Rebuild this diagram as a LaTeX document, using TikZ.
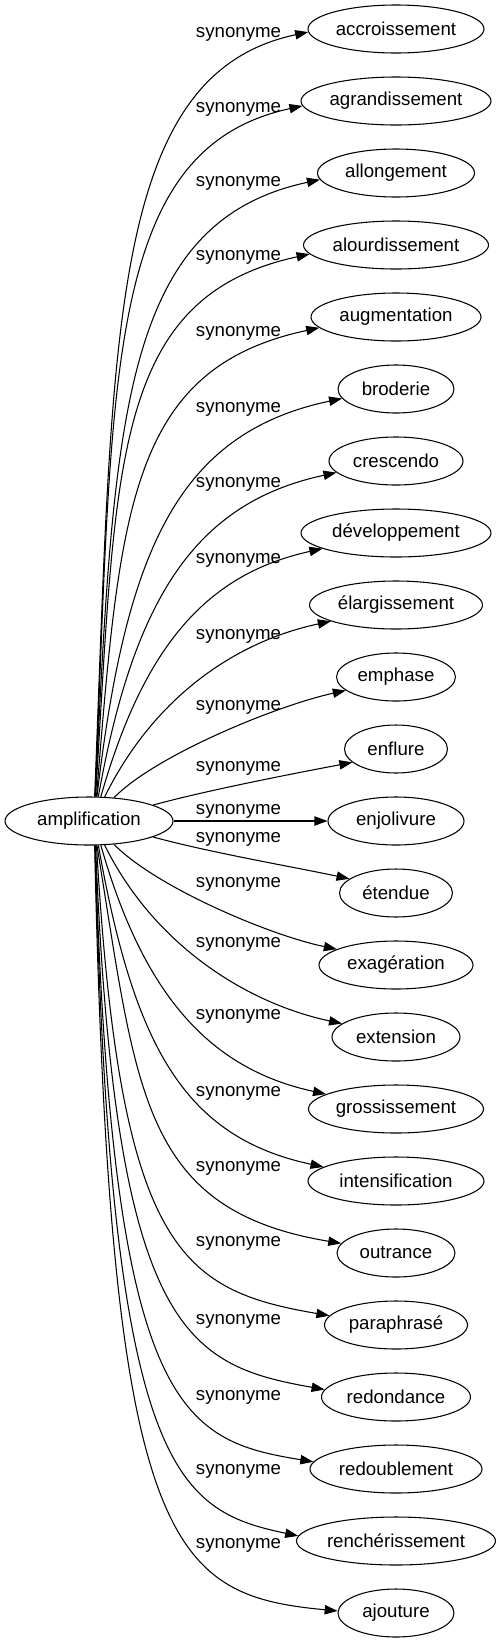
\documentclass[tikz,border=0pt]{standalone}
\usepackage{fontspec}
\setmainfont{Liberation Sans}
\usetikzlibrary{shapes.geometric,arrows.meta}
\tikzset{
  word/.style={draw, ellipse, inner sep=0pt, minimum height=36pt},
  syn/.style={-{Triangle[length=9.75pt,width=7pt]}},
  lab/.style={anchor=base, inner sep=0pt}
}
\begin{document}
\begin{tikzpicture}[x=0.75pt, y=-0.75pt, line width=0.8pt, font=\fontsize{14pt}{16pt}\selectfont]
    \useasboundingbox (0,0) rectangle (501,1643);
    \node (amp) at (89,821) [word, minimum width=126pt] {amplification};
    \node (accroissement) at (396,29) [word, minimum width=132pt] {accroissement};
    \node (agrandissement) at (396,101) [word, minimum width=142.5pt] {agrandissement};
    \node (allongement) at (396,173) [word, minimum width=117.75pt] {allongement};
    \node (alourdissement) at (396,245) [word, minimum width=138.75pt] {alourdissement};
    \node (augmentation) at (396,317) [word, minimum width=127.5pt] {augmentation};
    \node (broderie) at (396,389) [word, minimum width=87pt] {broderie};
    \node (crescendo) at (396,461) [word, minimum width=100.5pt] {crescendo};
    \node (developpement) at (396,533) [word, minimum width=142.5pt] {développement};
    \node (elargissement) at (396,605) [word, minimum width=129.75pt] {élargissement};
    \node (emphase) at (396,677) [word, minimum width=89.25pt] {emphase};
    \node (enflure) at (396,749) [word, minimum width=77.25pt] {enflure};
    \node (enjolivure) at (396,821) [word, minimum width=102pt] {enjolivure};
    \node (etendue) at (396,893) [word, minimum width=84.75pt] {étendue};
    \node (exageration) at (396,965) [word, minimum width=115.5pt] {exagération};
    \node (extension) at (396,1037) [word, minimum width=96pt] {extension};
    \node (grossissement) at (396,1109) [word, minimum width=131.25pt] {grossissement};
    \node (intensification) at (396,1181) [word, minimum width=132pt] {intensification};
    \node (outrance) at (396,1253) [word, minimum width=88.5pt] {outrance};
    \node (paraphrase) at (396,1325) [word, minimum width=107.25pt] {paraphrasé};
    \node (redondance) at (396,1397) [word, minimum width=111.75pt] {redondance};
    \node (redoublement) at (396,1469) [word, minimum width=129pt] {redoublement};
    \node (rencherissement) at (396,1541) [word, minimum width=149.25pt] {renchérissement};
    \node (ajouture) at (396,1613) [word, minimum width=87pt] {ajouture};
    \draw[syn] (amp.77) .. controls (113.1,336.4) and (108.1,74.5) .. (accroissement.182);
    \draw[syn] (amp.76) .. controls (113.1,379.4) and (103.1,149.1) .. (agrandissement.183);
    \draw[syn] (amp.76) .. controls (114.1,423.5) and (120,222.2) .. (allongement.185);
    \draw[syn] (amp.75) .. controls (116.4,466.7) and (110.8,297.3) .. (alourdissement.186);
    \draw[syn] (amp.73) .. controls (119.8,510.1) and (129.3,368.3) .. (augmentation.188);
    \draw[syn] (amp.72) .. controls (125.6,553.8) and (176,433.4) .. (broderie.190);
    \draw[syn] (amp.69) .. controls (133.7,598.3) and (195.4,502.7) .. (crescendo.191);
    \draw[syn] (amp.64) .. controls (143.9,645.3) and (207.2,573.9) .. (developpement.192);
    \draw[syn] (amp.57) .. controls (155.3,694.3) and (238.7,640.8) .. (elargissement.194);
    \draw[syn] (amp.43) .. controls (155.7,755) and (277.9,705.2) .. (emphase.195);
    \draw[syn] (amp.14) .. controls (210,789.6) and (294,773.5) .. (enflure.197);
    \draw[syn] (amp.east) -- (enjolivure.west);
    \draw[syn] (amp.346) .. controls (210,852.5) and (291.3,866.5) .. (etendue.163);
    \draw[syn] (amp.317) .. controls (155.7,887) and (269.9,935.4) .. (exageration.165);
    \draw[syn] (amp.303) .. controls (155.4,947.7) and (249.8,1004) .. (extension.166);
    \draw[syn] (amp.296) .. controls (144,996.7) and (210.6,1069) .. (grossissement.168);
    \draw[syn] (amp.291) .. controls (133.7,1043.7) and (182.6,1136.8) .. (intensification.169);
    \draw[syn] (amp.288) .. controls (137,1090) and (140,1210) .. (outrance.170);
    \draw[syn] (amp.287) .. controls (120,1250) and (180,1290) .. (paraphrase.172);
    \draw[syn] (amp.285) .. controls (115,1330) and (185,1365) .. (redondance.174);
    \draw[syn] (amp.284) .. controls (112,1410) and (180,1440) .. (redoublement.175);
    \draw[syn] (amp.284) .. controls (110,1470) and (175,1510) .. (rencherissement.177);
    \draw[syn] (amp.283) .. controls (110,1550) and (170,1595) .. (ajouture.178);
    \node (l0) at (238.5,37) [lab] {synonyme};
    \node (l1) at (238.5,112) [lab] {synonyme};
    \node (l2) at (238.5,186) [lab] {synonyme};
    \node (l3) at (238.5,260) [lab] {synonyme};
    \node (l4) at (238.5,336) [lab] {synonyme};
    \node (l5) at (238.5,412) [lab] {synonyme};
    \node (l6) at (238.5,487) [lab] {synonyme};
    \node (l7) at (238.5,563) [lab] {synonyme};
    \node (l8) at (238.5,639) [lab] {synonyme};
    \node (l9) at (238.5,710) [lab] {synonyme};
    \node (l10) at (238.5,771) [lab] {synonyme};
    \node (l11) at (238.5,814) [lab] {synonyme};
    \node (l12) at (238.5,842) [lab] {synonyme};
    \node (l13) at (238.5,887) [lab] {synonyme};
    \node (l14) at (238.5,947) [lab] {synonyme};
    \node (l15) at (238.5,1019) [lab] {synonyme};
    \node (l16) at (238.5,1096) [lab] {synonyme};
    \node (l17) at (238.5,1171) [lab] {synonyme};
    \node (l18) at (238.5,1246) [lab] {synonyme};
    \node (l19) at (238.5,1324) [lab] {synonyme};
    \node (l20) at (238.5,1400) [lab] {synonyme};
    \node (l21) at (238.5,1474) [lab] {synonyme};
    \node (l22) at (238.5,1548) [lab] {synonyme};
\end{tikzpicture}
\end{document}
